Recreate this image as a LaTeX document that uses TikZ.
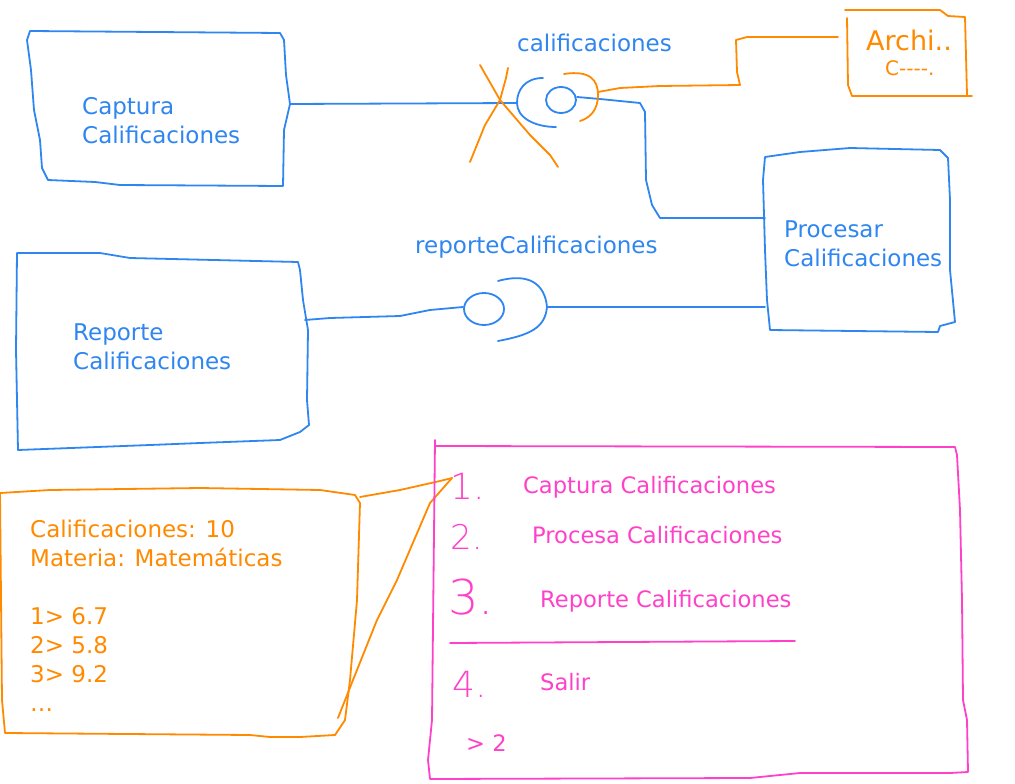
\documentclass[tikz,border=0pt]{standalone}
\usepackage{fontspec}
\setmainfont{DejaVu Sans}
\newfontfamily\thinfont{DejaVu Sans ExtraLight}
\usetikzlibrary{calc}

\definecolor{azul}{RGB}{47,134,240}
\definecolor{naranja}{RGB}{255,138,0}
\definecolor{rosa}{RGB}{255,64,200}

\tikzset{
  trazo/.style={line width=1.8pt, line cap=round, line join=round},
  txt/.style={font=\fontsize{23}{29}\selectfont, inner sep=0pt, anchor=base west},
  menu/.style={font=\fontsize{22.6}{29}\selectfont, inner sep=0pt, anchor=base west},
  mano/.style={font=\thinfont\fontsize{#1}{#1}\selectfont, inner sep=0pt, anchor=base west}
}

\begin{document}
\begin{tikzpicture}[x=1pt, y=-1pt]

\useasboundingbox[fill=white] (0,0) rectangle (1015,784);

% Connection points on the sketched boxes
\coordinate (capR) at (290,104);
\coordinate (procA) at (765,218);
\coordinate (procB) at (765,307);
\coordinate (repR) at (305,320);
\coordinate (cal) at (517,103);
\coordinate (rep) at (547,307);
\coordinate (arch) at (838,37);
\coordinate (datos) at (360,497);
\coordinate (opc) at (452,478);

% Captura Calificaciones
\draw[trazo, azul] (30,31) -- (280,33) -- (284,40) -- (286,75) -- (capR) -- (284,130)
  -- (283,186) -- (120,185) -- (95,182) -- (48,180) -- (42,168) -- (40,140)
  -- (34,110) -- (31,70) -- (27,40) -- cycle;
\node[txt, azul] (captura1) at (82,114) {Captura};
\node[txt, azul] (captura2) at (82,143) {Calificaciones};

% Procesar Calificaciones
\draw[trazo, azul] (765,157) -- (800,152) -- (850,148) -- (940,150) -- (948,158)
  -- (950,200) -- (950,270) -- (955,322) -- (940,326) -- (938,332) -- (770,330)
  -- (767,300) -- (765,250) -- (763,180) -- cycle;
\node[txt, azul] (procesar1) at (784,237) {Procesar};
\node[txt, azul] (procesar2) at (784,266) {Calificaciones};

% Reporte Calificaciones
\draw[trazo, azul] (17,253) -- (100,253) -- (130,258) -- (298,262) -- (300,270)
  -- (303,300) -- (308,330) -- (307,400) -- (309,425) -- (300,432) -- (280,440)
  -- (200,443) -- (150,445) -- (18,450) -- (16,350) -- cycle;
\node[txt, azul] (reporte1) at (73,340) {Reporte};
\node[txt, azul] (reporte2) at (73,369) {Calificaciones};

% Interface calificaciones (socket, ball and the crossed-out part)
\draw[trazo, azul] (capR) -- (cal);
\draw[trazo, azul] (543,78) .. controls (525,78) and (517,90) .. (cal)
  .. controls (517,118) and (535,127) .. (556,127);
\draw[trazo, azul] (561,100) ellipse (15 and 13);
\draw[trazo, azul] (577,97) -- (600,99) -- (640,103) -- (645,112) -- (646,180)
  -- (652,205) -- (660,218) -- (procA);
\draw[trazo, naranja] (564,74) .. controls (590,70) and (598,80) .. (598,95)
  .. controls (598,110) and (590,118) .. (580,121);
\draw[trazo, naranja] (470,162) -- (485,125) -- (500,100) -- (506,78) -- (508,68);
\draw[trazo, naranja] (480,65) -- (500,100) -- (530,135) -- (550,155) -- (558,167);
\node[txt, azul] (lblcal) at (517,52) {calificaciones};

% Archivo
\draw[trazo, naranja] (598,92) -- (620,88) -- (660,86) -- (740,85) -- (737,72)
  -- (736,40) -- (747,37) -- (arch);
\draw[trazo, naranja] (845,10) -- (940,10) -- (948,16) -- (965,17) -- (967,95);
\draw[trazo, naranja] (847,18) -- (848,85) -- (852,96) -- (972,96);
\node[txt, naranja, font=\fontsize{27}{27}\selectfont] (archivo1) at (866,51) {Archi..};
\node[txt, naranja, font=\fontsize{20}{20}\selectfont] (archivo2) at (885,76) {C{-}{-}{-}{-}.};

% Interface reporteCalificaciones
\draw[trazo, azul] (procB) -- (rep);
\draw[trazo, azul] (498,281) .. controls (530,272) and (545,285) .. (rep)
  .. controls (545,328) and (530,335) .. (498,341);
\draw[trazo, azul] (484,309) ellipse (20 and 16);
\draw[trazo, azul] (463,307) -- (430,310) -- (400,316) -- (330,318) -- (repR);
\node[txt, azul] (lblrep) at (415,253) {reporteCalificaciones};

% Datos de calificaciones
\draw[trazo, naranja] (0,493) -- (50,490) -- (200,488) -- (320,490) -- (355,495)
  -- (360,503) -- (357,600) -- (350,680) -- (345,720) -- (335,735) -- (300,737)
  -- (270,737) -- (250,735) -- (5,733) -- (2,700) -- cycle;
\foreach \t/\i in {Calificaciones: 10/0, Materia: Matemáticas/1,
    1> 6.7/3, 2> 5.8/4, 3> 9.2/5} {
  \node[txt, naranja] (dato\i) at (30,537+29*\i) {\t};
}
\node[txt, naranja] (dato6) at (30,711) {\dots};
\draw[trazo, naranja] (datos) -- (400,490) -- (440,481) -- (opc);
\draw[trazo, naranja] (338,718) -- (353,680) -- (377,620) -- (397,580) -- (430,503)
  -- (opc);

% Menu
\draw[trazo, rosa] (435,440) -- (435,446) -- (955,447) -- (957,455) -- (960,510)
  -- (962,600) -- (963,700) -- (967,720) -- (968,772) -- (950,773) -- (800,773)
  -- (750,778) -- (430,779) -- (428,760) -- (432,720) -- cycle;
\node[mano={36}, rosa] (n1) at (450,499) {1.};
\node[mano={34}, rosa] (n2) at (450,549) {2.};
\node[mano={48}, rosa] (n3) at (448,614) {3.};
\node[mano={36}, rosa] (n4) at (452,697) {4.};
\node[menu, rosa] (op1) at (523,493) {Captura Calificaciones};
\node[menu, rosa] (op2) at (532,543) {Procesa Calificaciones};
\node[menu, rosa] (op3) at (540,607) {Reporte Calificaciones};
\node[menu, rosa] (op4) at (540,690) {Salir};
\node[menu, rosa] (prompt) at (466,751) {> 2};
\draw[trazo, rosa] (450,643) -- (795,641);

\end{tikzpicture}
\end{document}
